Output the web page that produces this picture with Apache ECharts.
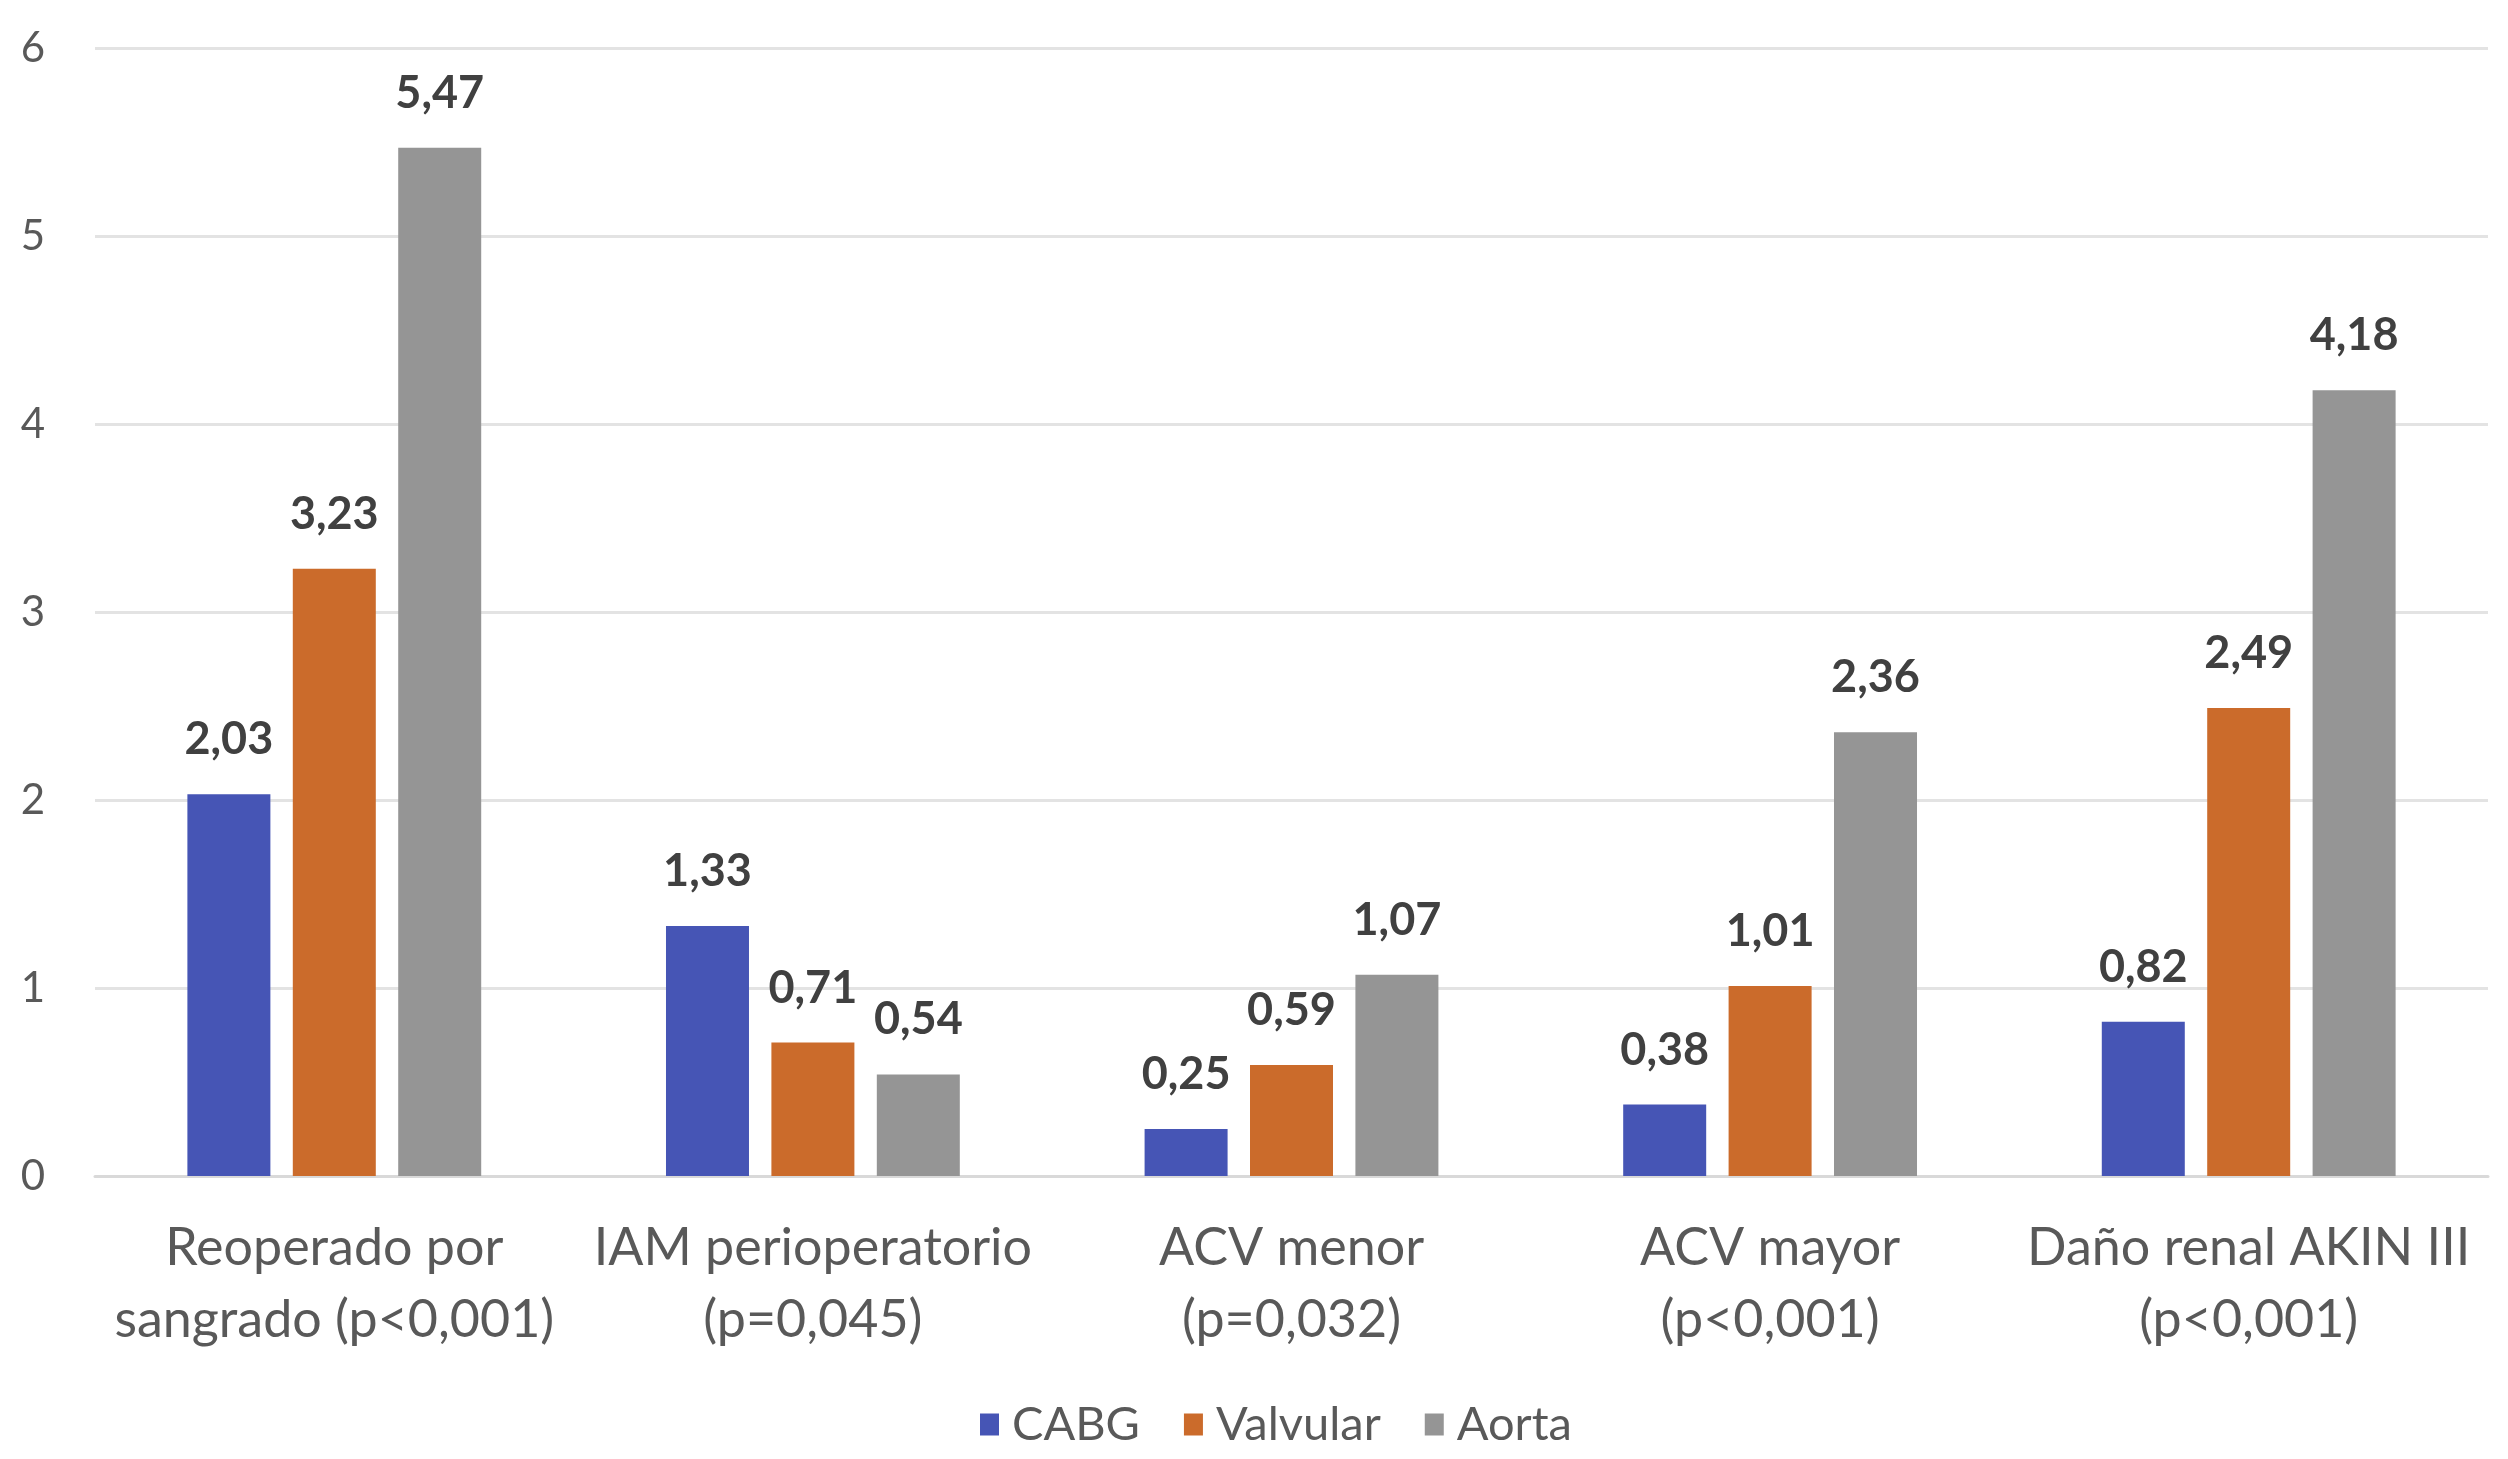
<!DOCTYPE html>
<html>
<head>
<meta charset="utf-8">
<script src="https://cdn.jsdelivr.net/npm/echarts@6/dist/echarts.min.js"></script>
<style>html,body{margin:0;padding:0;background:#fff}#c{width:2508px;height:1459px}</style>
</head>
<body>
<div id="c"></div>
<script>
const categories = ["Reoperado por\nsangrado (p<0,001)", "IAM perioperatorio\n(p=0,045)", "ACV menor\n(p=0,032)", "ACV mayor\n(p<0,001)", "Daño renal AKIN III\n(p<0,001)"];
const seriesNames = ["CABG", "Valvular", "Aorta"];
const cabg = [2.03, 1.33, 0.25, 0.38, 0.82];
const valvular = [3.23, 0.71, 0.59, 1.01, 2.49];
const aorta = [5.47, 0.54, 1.07, 2.36, 4.18];
const yTicks = [0, 1, 2, 3, 4, 5, 6];
const colors = ["#4655B5", "#CB6B2B", "#959595"];

const font = "Lato, 'Open Sans', sans-serif";
const chart = echarts.init(document.getElementById('c'));
const mk = (name, data, color) => ({
  name, type: 'bar', data,
  barWidth: 83, barGap: '27%',
  itemStyle: { color },
  label: {
    show: true, position: 'top', distance: 32,
    color: '#404040', fontFamily: font, fontSize: 45, fontWeight: 'bold',
    formatter: p => p.value.toFixed(2).replace('.', ',')
  }
});
chart.setOption({
  animation: false,
  backgroundColor: '#fff',
  color: colors,
  grid: { left: 95, right: 20, top: 48, bottom: 283 },
  legend: {
    bottom: 6, left: 975, icon: 'rect', itemWidth: 19, itemHeight: 22, itemGap: 44,
    textStyle: { fontFamily: font, fontSize: 47, color: '#595959', padding: [0, 0, 0, 8] },
    data: seriesNames
  },
  xAxis: {
    type: 'category', data: categories,
    axisLine: { lineStyle: { color: '#D9D9D9', width: 3 } },
    axisTick: { show: false },
    axisLabel: { fontFamily: font, fontSize: 52, color: '#595959', lineHeight: 72, margin: 36, interval: 0 }
  },
  yAxis: {
    type: 'value', min: yTicks[0], max: yTicks[yTicks.length - 1], interval: 1,
    axisLine: { show: false }, axisTick: { show: false },
    splitLine: { lineStyle: { color: '#E3E3E3', width: 3 } },
    axisLabel: { fontFamily: font, fontSize: 42, color: '#595959', margin: 50 }
  },
  series: [mk(seriesNames[0], cabg, colors[0]), mk(seriesNames[1], valvular, colors[1]), mk(seriesNames[2], aorta, colors[2])]
});
</script>
</body>
</html>
